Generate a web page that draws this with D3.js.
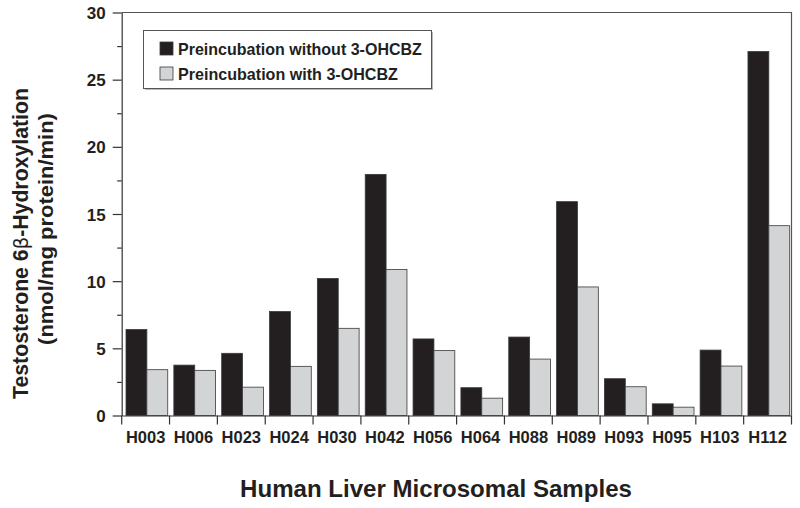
<!DOCTYPE html>
<html><head><meta charset="utf-8">
<script src="https://cdn.jsdelivr.net/npm/d3@7"></script>
<style>body{margin:0;background:#fff}svg{display:block}text{font-family:"Liberation Sans",Arial,Helvetica,sans-serif;font-weight:bold;fill:#231f20}</style>
</head><body>
<svg id="c" width="800" height="508"></svg>
<script>
const categories = ["H003","H006","H023","H024","H030","H042","H056","H064","H088","H089","H093","H095","H103","H112"];
const seriesNames = ["Preincubation without 3-OHCBZ","Preincubation with 3-OHCBZ"];
const without = [6.4,3.75,4.63,7.74,10.2,17.95,5.7,2.07,5.84,15.92,2.74,0.87,4.87,27.1];
const withC = [3.41,3.36,2.11,3.66,6.49,10.87,4.83,1.29,4.2,9.57,2.14,0.62,3.68,14.13];
const yTicks = [0,5,10,15,20,25,30];
const yMinor = [2.5,7.5,12.5,17.5,22.5,27.5];
const colors = ["#231f20","#d3d4d5"];

const svg = d3.select("#c");
const L=121.7, R=791.5, T=12.5, B=415.5;
const x = d3.scaleBand().domain(categories).range([L,R]).paddingInner(0).paddingOuter(0);
const x1 = d3.scaleBand().domain([0,1]).range([4.3, x.bandwidth()-1.8]);
const y = d3.scaleLinear().domain([0,30]).range([B,T]);

// place text at (tx,ty), rotated by rot, squeezed horizontally to span target px
function squeeze(sel, tx, ty, rot, target){
  const w = sel.node().getComputedTextLength();
  sel.attr("transform", `translate(${tx},${ty}) rotate(${rot}) scale(${(target/w).toFixed(4)},1)`);
}

// bars
const data = categories.map((c,i)=>({c, v:[without[i], withC[i]]}));
const g = svg.append("g");
g.selectAll("g.grp").data(data).join("g").attr("transform",d=>`translate(${x(d.c)},0)`)
 .selectAll("rect").data(d=>d.v.map((v,k)=>({v,k}))).join("rect")
 .attr("x",d=>x1(d.k)).attr("width",x1.bandwidth())
 .attr("y",d=>y(d.v)).attr("height",d=>B-y(d.v))
 .attr("fill",d=>colors[d.k]).attr("stroke","#3a3a3a").attr("stroke-width",0.8);

// frame
svg.append("path").attr("d",`M${L},${T}H${R}V${B}`).attr("fill","none").attr("stroke","#555").attr("stroke-width",1.2);

// y axis
const ya = svg.append("g").attr("transform",`translate(${L},0)`)
 .call(d3.axisLeft(y).tickValues(yTicks).tickSize(9).tickSizeOuter(0).tickPadding(6));
ya.select(".domain").attr("stroke","#333").attr("stroke-width",1.2);
ya.selectAll(".tick line").attr("stroke","#333").attr("stroke-width",1.2);
ya.selectAll(".tick text").style("font-size","17px").attr("fill","#231f20").attr("dy","0.36em").attr("x",-16);
svg.append("g").attr("transform",`translate(${L},0)`)
 .call(d3.axisLeft(y).tickValues(yMinor).tickSize(4.5).tickFormat(""))
 .call(s=>{s.select(".domain").remove(); s.selectAll("line").attr("stroke","#333").attr("stroke-width",1.2);});

// x axis
const xa = svg.append("g").attr("transform",`translate(0,${B})`)
 .call(d3.axisBottom(x).tickSize(0).tickPadding(16).tickSizeOuter(0));
xa.select(".domain").attr("stroke","#333").attr("stroke-width",1.2);
xa.selectAll(".tick text").style("font-size","16.5px").attr("fill","#231f20");
const bounds = categories.map(c=>x(c)).concat([x(categories[categories.length-1])+x.bandwidth()]);
svg.append("g").selectAll("line").data(bounds).join("line")
 .attr("x1",d=>d).attr("x2",d=>d).attr("y1",B).attr("y2",B+9)
 .attr("stroke","#333").attr("stroke-width",1.2);

// axis titles
const xt = svg.append("text").attr("text-anchor","middle").style("font-size","23px").text("Human Liver Microsomal Samples");
squeeze(xt, 436, 497, 0, 392);
const yt = svg.append("text").attr("text-anchor","middle").style("font-size","21.5px");
yt.append("tspan").text("Testosterone 6");
yt.append("tspan").style("font-weight","normal").style("font-family","'DejaVu Sans',sans-serif").style("font-size","0.92em").text("β");
yt.append("tspan").text("-Hydroxylation");
squeeze(yt, 27.5, 243.5, -90, 311);
const yt2 = svg.append("text").attr("text-anchor","middle").style("font-size","19.5px").text("(nmol/mg protein/min)");
squeeze(yt2, 52.5, 229, -90, 232);

// legend
const lg = svg.append("g");
lg.append("rect").attr("x",145).attr("y",32).attr("width",288).attr("height",58).attr("fill","#bbb");
lg.append("rect").attr("x",143.5).attr("y",30.5).attr("width",288).attr("height",58).attr("fill","#fff").attr("stroke","#555").attr("stroke-width",1);
const legTargets = [244, 220];
seriesNames.forEach((n,k)=>{
  lg.append("rect").attr("x",160).attr("y",42+k*25).attr("width",13).attr("height",13).attr("fill",colors[k]).attr("stroke","#3a3a3a").attr("stroke-width",0.8);
  const t = lg.append("text").style("font-size","17px").text(n);
  squeeze(t, 178, 55+k*25, 0, legTargets[k]);
});
</script>
</body></html>
